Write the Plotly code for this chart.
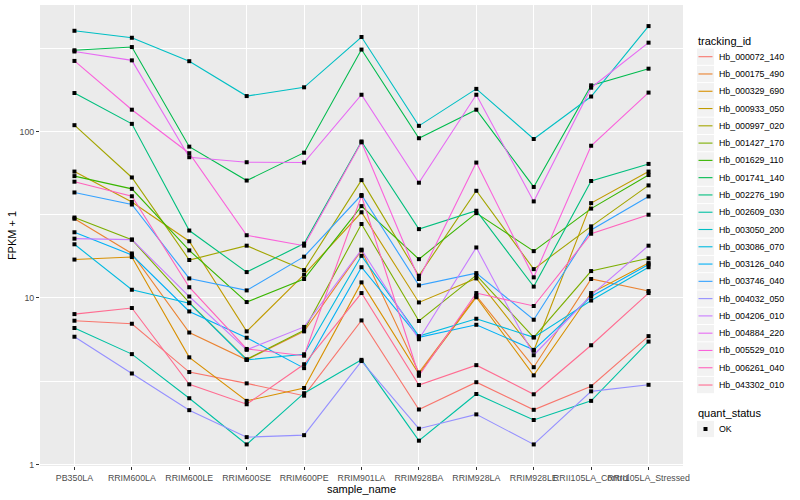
import plotly.graph_objects as go

samples = ["PB350LA", "RRIM600LA", "RRIM600LE", "RRIM600SE", "RRIM600PE", "RRIM901LA",
           "RRIM928BA", "RRIM928LA", "RRIM928LE", "RRII105LA_Control", "RRII105LA_Stressed"]

Hb_000072_140 = [7.3, 7.0, 3.59, 3.07, 2.59, 7.33, 2.14, 3.12, 2.13, 2.95, 5.9]
Hb_000175_490 = [29.9, 18.5, 6.2, 4.25, 6.3, 19.3, 3.57, 10.3, 3.84, 13.0, 11.0]
Hb_000329_690 = [17.0, 17.6, 4.4, 2.41, 2.88, 12.4, 3.49, 10.1, 3.43, 10.7, 16.2]
Hb_000933_050 = [57.4, 37.7, 21.9, 6.3, 13.8, 32.7, 9.4, 13.1, 4.82, 37.1, 57.4]
Hb_000997_020 = [109, 52.9, 16.9, 20.6, 14.7, 51, 13.6, 44, 14.9, 26.9, 47.4]
Hb_001427_170 = [30.4, 22.4, 9.38, 4.28, 6.4, 27.8, 7.27, 13.7, 5.8, 14.5, 17.3]
Hb_001629_110 = [53.9, 45.2, 19.3, 9.45, 13.0, 35.6, 17.1, 32.3, 19.1, 34.4, 54.7]
Hb_001741_140 = [307, 321, 81, 50.7, 74.5, 310, 91, 135, 46.4, 189, 238]
Hb_002276_190 = [170, 111, 25.4, 14.3, 21.2, 87, 25.9, 33.4, 11.7, 50.4, 63.8]
Hb_002609_030 = [6.6, 4.6, 2.5, 1.32, 2.68, 4.25, 1.39, 2.65, 1.85, 2.41, 5.47]
Hb_003050_200 = [402, 365, 264, 163, 184, 369, 108, 180, 90, 162, 429]
Hb_003086_070 = [21.0, 11.2, 9.3, 4.25, 4.59, 17.9, 5.9, 7.5, 5.8, 9.65, 15.3]
Hb_003126_040 = [24.8, 18.1, 8.3, 5.77, 3.79, 15.3, 5.8, 6.9, 4.88, 10.2, 15.9]
Hb_003746_040 = [43, 36.4, 13.1, 11.1, 17.7, 41.5, 11.9, 14.1, 7.4, 25.6, 40.7]
Hb_004032_050 = [5.85, 3.52, 2.12, 1.46, 1.50, 4.18, 1.64, 2.0, 1.32, 2.75, 3.01]
Hb_004206_010 = [22.7, 22.4, 10.2, 4.88, 6.7, 19.5, 5.65, 20.1, 4.53, 10.4, 20.6]
Hb_004884_220 = [302, 267, 70, 65.3, 65, 166, 49.2, 166, 38, 183, 341]
Hb_005529_010 = [265, 135, 74, 23.8, 20.6, 86, 13.0, 65, 13.3, 82, 171]
Hb_006261_040 = [49.9, 40.8, 11.6, 4.94, 4.5, 41, 3.41, 10.7, 8.95, 24.3, 31.6]
Hb_043302_010 = [8.0, 8.7, 3.03, 2.30, 4.0, 10.7, 3.0, 3.95, 2.64, 5.2, 10.7]

tracking_ids = ["Hb_000072_140", "Hb_000175_490", "Hb_000329_690", "Hb_000933_050",
                "Hb_000997_020", "Hb_001427_170", "Hb_001629_110", "Hb_001741_140",
                "Hb_002276_190", "Hb_002609_030", "Hb_003050_200", "Hb_003086_070",
                "Hb_003126_040", "Hb_003746_040", "Hb_004032_050", "Hb_004206_010",
                "Hb_004884_220", "Hb_005529_010", "Hb_006261_040", "Hb_043302_010"]
series_values = [Hb_000072_140, Hb_000175_490, Hb_000329_690, Hb_000933_050,
                 Hb_000997_020, Hb_001427_170, Hb_001629_110, Hb_001741_140,
                 Hb_002276_190, Hb_002609_030, Hb_003050_200, Hb_003086_070,
                 Hb_003126_040, Hb_003746_040, Hb_004032_050, Hb_004206_010,
                 Hb_004884_220, Hb_005529_010, Hb_006261_040, Hb_043302_010]

colors = ["#F8766D", "#EA8331", "#D89000", "#C09B00", "#A3A500", "#7CAE00", "#39B600",
          "#00BB4E", "#00BF7D", "#00C1A3", "#00BFC4", "#00BAE0", "#00B0F6", "#35A2FF",
          "#9590FF", "#C77CFF", "#E76BF3", "#FA62DB", "#FF62BC", "#FF6C91"]

quant_status = ["OK"]

FONT = "Liberation Sans, Arial, Helvetica, sans-serif"
W, H = 800, 500
ML, MR, MT, MB = 40, 117, 5, 34
PW, PH = W - ML - MR, H - MT - MB


def px_x(px):
    return (px - ML) / PW


def px_y(py):
    return 1 - (py - MT) / PH


fig = go.Figure()
for name, vals, col in zip(tracking_ids, series_values, colors):
    fig.add_trace(go.Scatter(x=samples, y=vals, mode="lines", name=name,
                             line=dict(color=col, width=1.1), showlegend=False))

all_x = [s for vals in series_values for s in samples]
all_y = [v for vals in series_values for v in vals]
fig.add_trace(go.Scatter(x=all_x, y=all_y, mode="markers", name=quant_status[0],
                         marker=dict(symbol="square", size=4, color="black"),
                         showlegend=False))

# ggplot-style legends (key boxes + labels)
shapes = []
annotations = []
KEY_L, KEY_R, KEY_H = 697, 714, 17.28
TEXT_X = 717

annotations.append(dict(x=px_x(696), y=px_y(41), xref="paper", yref="paper",
                        text="tracking_id", showarrow=False, xanchor="left", yanchor="middle",
                        font=dict(family=FONT, size=11, color="black")))
first_c = 56.7
for i, (name, col) in enumerate(zip(tracking_ids, colors)):
    cy = first_c + KEY_H * i
    shapes.append(dict(type="rect", xref="paper", yref="paper",
                       x0=px_x(KEY_L), x1=px_x(KEY_R),
                       y0=px_y(cy - KEY_H / 2 + 0.5), y1=px_y(cy + KEY_H / 2 - 0.5),
                       fillcolor="#F2F2F2", line=dict(width=0), layer="below"))
    shapes.append(dict(type="line", xref="paper", yref="paper",
                       x0=px_x(KEY_L + 1.5), x1=px_x(KEY_R - 1.5), y0=px_y(cy), y1=px_y(cy),
                       line=dict(color=col, width=1.1)))
    annotations.append(dict(x=px_x(TEXT_X), y=px_y(cy), xref="paper", yref="paper",
                            text=name, showarrow=False, xanchor="left", yanchor="middle",
                            font=dict(family=FONT, size=8.8, color="black")))

annotations.append(dict(x=px_x(696), y=px_y(412.5), xref="paper", yref="paper",
                        text="quant_status", showarrow=False, xanchor="left", yanchor="middle",
                        font=dict(family=FONT, size=11, color="black")))
ok_c = 429
shapes.append(dict(type="rect", xref="paper", yref="paper",
                   x0=px_x(KEY_L), x1=px_x(KEY_R),
                   y0=px_y(ok_c - KEY_H / 2 + 0.5), y1=px_y(ok_c + KEY_H / 2 - 0.5),
                   fillcolor="#F2F2F2", line=dict(width=0), layer="below"))
shapes.append(dict(type="rect", xref="paper", yref="paper",
                   x0=px_x(703.5), x1=px_x(707.5), y0=px_y(ok_c - 2), y1=px_y(ok_c + 2),
                   fillcolor="black", line=dict(width=0)))
annotations.append(dict(x=px_x(TEXT_X), y=px_y(ok_c), xref="paper", yref="paper",
                        text=quant_status[0], showarrow=False, xanchor="left", yanchor="middle",
                        font=dict(family=FONT, size=8.8, color="black")))

fig.update_layout(
    width=W, height=H, autosize=False,
    margin=dict(l=ML, r=MR, t=MT, b=MB),
    plot_bgcolor="#EBEBEB", paper_bgcolor="white",
    font=dict(family=FONT, size=9, color="#4D4D4D"),
    showlegend=False,
    shapes=shapes, annotations=annotations,
    xaxis=dict(type="category", categoryorder="array", categoryarray=samples,
               range=[-0.6, 10.6], showgrid=True, gridcolor="white", gridwidth=1.1,
               ticks="outside", ticklen=3, tickcolor="#333333", tickangle=0,
               tickfont=dict(family=FONT, size=8.8, color="#4D4D4D"),
               title=dict(text="sample_name", font=dict(family=FONT, size=11, color="black"),
                          standoff=1),
               zeroline=False, showline=False, automargin=False),
    yaxis=dict(type="log", range=[-0.009, 2.759], tickvals=[1, 10, 100],
               ticktext=["1", "10", "100"], showgrid=True, gridcolor="white", gridwidth=1.1,
               minor=dict(tickvals=[10 ** 0.5, 10 ** 1.5, 10 ** 2.5], showgrid=True,
                          gridcolor="white", gridwidth=0.5, ticks=""),
               ticks="outside", ticklen=3, tickcolor="#333333",
               tickfont=dict(family=FONT, size=8.8, color="#4D4D4D"),
               title=dict(text="FPKM + 1", font=dict(family=FONT, size=11, color="black"),
                          standoff=0),
               zeroline=False, showline=False, automargin=False),
)

fig.write_html("out.html", config={"displayModeBar": False},
               post_script="document.body.style.margin='0px';document.body.style.overflow='hidden';")
